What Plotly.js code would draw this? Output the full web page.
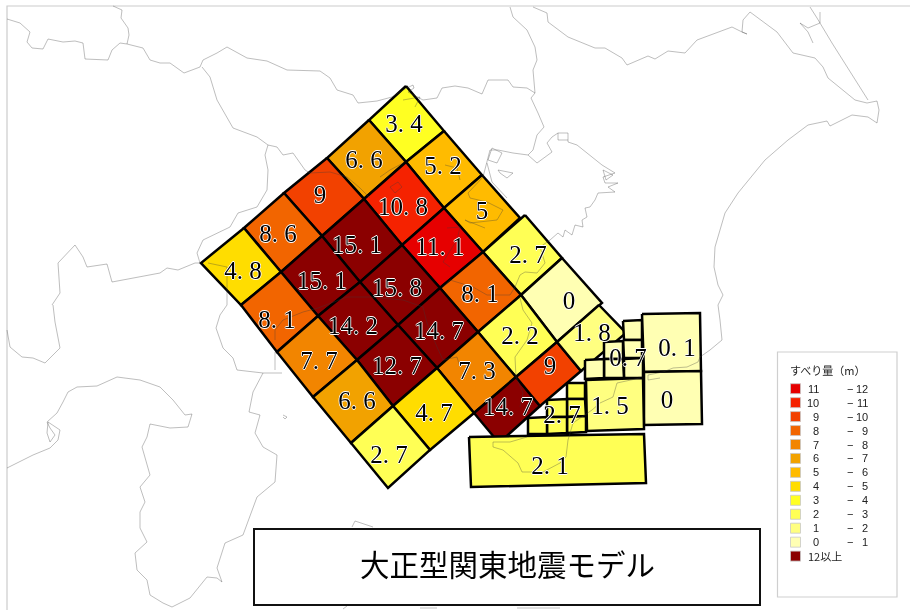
<!DOCTYPE html>
<html><head><meta charset="utf-8">
<script src="https://cdn.plot.ly/plotly-3.0.1.min.js"></script>
<style>html,body{margin:0;padding:0;background:#fff}#c{width:910px;height:610px;filter:blur(0.3px)}</style>
</head><body><div id="c"></div>
<script>
// slip categories
const legendTitle = 'すべり量（m）';
const legendLow  = ['11','10','9','8','7','6','5','4','3','2','1','0'];
const legendHigh = ['12','11','10','9','8','7','6','5','4','3','2','1'];
const legendColors = ['#e60000','#f52200','#f24100','#f26500','#f28500','#f2a200','#ffbb00','#ffdd00','#ffff22','#ffff55','#ffff80','#ffffb3'];
const overLabel = '12以上';
const overColor = '#8b0000';
const titleText = '大正型関東地震モデル';

// fault-cell slip values
const cellValues = [3.4,5.2,5,2.7,0, 6.6,10.8,11.1,8.1,2.2, 9,15.1,15.8,14.7,7.3, 8.6,15.1,14.2,12.7,4.7, 4.8,8.1,7.7,6.6,2.7, 14.7,9,1.8];
const cellPolys = [
 [[406,86],[444,131],[406,162],[369,120]],
 [[444,131],[482,175],[444,208],[406,162]],
 [[482,175],[520,218],[483,252],[444,208]],
 [[525,215],[562,258],[521,295],[483,252]],
 [[562,258],[602,303],[557,342],[521,295]],
 [[369,120],[406,162],[364,199],[327,158]],
 [[406,162],[444,208],[402,245],[364,199]],
 [[444,208],[483,252],[440,288],[402,245]],
 [[483,252],[521,295],[478,332],[440,288]],
 [[521,295],[557,342],[516,377],[478,332]],
 [[327,158],[364,199],[322,236],[284,193]],
 [[364,199],[402,245],[360,282],[322,236]],
 [[402,245],[440,288],[398,325],[360,282]],
 [[440,288],[478,332],[437,368],[398,325]],
 [[478,332],[516,377],[474,413],[437,368]],
 [[284,193],[322,236],[281,272],[244,228]],
 [[322,236],[360,282],[318,316],[281,272]],
 [[360,282],[398,325],[357,360],[318,316]],
 [[398,325],[437,368],[393,406],[357,360]],
 [[437,368],[474,413],[430,450],[393,406]],
 [[244,228],[281,272],[241,305],[201,263]],
 [[281,272],[318,316],[277,352],[241,305]],
 [[318,316],[357,360],[313,397],[277,352]],
 [[357,360],[393,406],[351,443],[313,397]],
 [[393,406],[430,450],[388,488],[351,443]],
 [[516,377],[540,406],[499,443],[474,413]],
 [[557,342],[581,371],[540,406],[516,377]],
 [[599,305],[626,333],[581,371],[557,342]]
];
const smallValues = [0.7,0.7,0.7,0.7,0.7,0.7,0.1,0,1.5,2.7,2.7,2.7,2.7,2.7,2.7,2.1];
const smallPolys = [
 [[623,321],[642,320],[642,340],[624,340]],
 [[623,340],[642,340],[642,358],[624,358]],
 [[624,359],[643,358],[643,378],[624,378]],
 [[604,342],[623,341],[623,359],[604,359]],
 [[604,359],[623,359],[624,378],[604,378]],
 [[585,360],[604,359],[604,378],[585,379]],
 [[642,314],[700,313],[701,371],[644,372]],
 [[644,372],[701,371],[702,424],[644,425]],
 [[586,380],[643,378],[644,429],[587,431]],
 [[567,383],[585,383],[585,399],[567,399]],
 [[567,399],[585,399],[586,416],[567,417]],
 [[567,417],[586,416],[586,432],[567,433]],
 [[547,400],[567,399],[567,417],[547,417]],
 [[547,417],[567,417],[567,433],[547,434]],
 [[528,418],[547,417],[547,434],[528,434]],
 [[469,437],[644,434],[646,483],[471,487]]
];

// value labels
const labelText = ['3.4','6.6','9','8.6','4.8','5.2','10.8','15.1','15.1','5','11.1','15.8','14.2','8.1','7.7','6.6','12.7','14.7','8.1','2.7','0','2.2','7.3','9','14.7','4.7','2.7','1.8','0.7','0.1','0','1.5','2.7','2.1'];
const labelX = [404,364,320,278,243,443,403,357,322,482,440,397,353,277,319,357,397,439,480,528,569,520,477,550,508,434,389,592,628,677,667,610,562,550];
const labelY = [126,162,197,236,273,168,209,247,283,213,249,290,328,322,363,403,368,333,296,257,303,338,373,368,409,415,457,335,360,350,402,408,417,468];

// coastline and boundary traces
const coastLines = [
 [[7,19],[20,23],[30,32],[27,42],[32,48],[43,49],[48,39],[63,42],[75,41],[83,43],[85,59],[100,60],[108,60],[112,50],[120,43],[127,44]],
 [[113,6],[122,10],[121,18],[128,28],[129,35],[127,44]],
 [[127,44],[143,48],[150,60],[160,63],[170,63],[184,73],[200,67],[203,60],[217,53],[227,47],[247,58],[267,61],[287,70],[320,71],[330,78],[337,90],[353,95],[358,103],[377,101],[392,97],[403,90],[413,85],[414,88],[408,92],[423,100],[437,98],[442,88],[455,86],[468,88],[482,94],[488,80],[508,80],[513,87],[527,88],[535,93]],
 [[510,7],[513,17],[527,30],[535,47],[537,60],[533,70],[535,93],[531,98],[538,113],[544,127],[537,135],[533,150],[528,155],[513,153]],
 [[528,155],[537,163],[552,152],[547,143],[552,137],[558,133],[568,133],[568,142],[577,145],[602,165],[615,173],[603,177],[605,183],[618,183],[608,187],[615,192],[598,193],[595,200],[590,207],[585,208],[587,217],[582,220],[583,227],[575,225],[572,235],[565,230],[563,237],[558,233],[550,240],[540,247],[545,263],[537,273],[525,272],[520,275],[515,287],[510,295],[487,295],[473,287],[450,280],[442,288]],
 [[558,133],[558,140],[568,140]],
 [[603,170],[613,175],[606,180],[603,170]],
 [[520,298],[523,310],[532,323],[527,340],[515,357],[516,377],[523,393],[520,407]],
 [[513,153],[498,150],[490,150],[487,163],[483,177],[468,193],[470,198],[487,202],[503,210],[497,220],[470,223],[465,220],[485,228]],
 [[487,163],[492,182],[507,198]],
 [[498,170],[513,173],[507,178],[500,173],[498,170]],
 [[492,148],[502,153],[497,163],[488,160],[492,148]],
 [[460,180],[457,168],[445,165]],
 [[447,228],[460,227],[457,240],[443,262],[450,267]],
 [[533,7],[547,13],[548,22],[568,37],[595,48],[605,48],[622,58],[627,65],[648,56],[655,59],[668,51],[685,53],[697,40],[715,33],[732,27],[742,32],[747,34],[742,32],[743,20],[750,12],[777,32],[793,53],[815,58],[823,67],[828,78],[855,100],[867,103],[877,101],[879,110],[877,123],[868,117],[852,115],[830,126],[827,121],[808,125],[788,140],[765,160],[738,193],[725,213],[715,247],[714,267],[718,285],[723,295],[718,305],[720,320],[722,340],[710,350],[700,357],[698,362],[687,367],[673,368],[663,372],[648,375],[648,380],[660,378]],
 [[640,378],[617,383],[613,397],[600,403],[592,410],[573,423],[568,440],[566,457],[560,463],[543,472],[522,472],[518,463],[503,450],[493,447],[493,442],[510,442],[527,437]],
 [[810,7],[817,18],[832,43],[855,80],[868,100]],
 [[820,12],[820,23],[808,28],[800,23],[808,32],[813,43]],
 [[7,468],[13,465],[33,455],[50,448],[58,440],[60,430],[55,427],[48,422],[47,433],[50,442],[55,435],[50,428],[47,422],[57,413],[63,402],[68,392],[77,387],[97,386],[117,377],[140,380],[160,387],[173,400],[185,415],[192,414],[188,427],[170,428],[150,424],[147,437],[142,447],[147,465],[150,475],[140,487],[145,502],[140,512],[140,528],[147,542],[135,553],[137,570],[147,580],[150,595],[163,603],[172,607],[190,598],[207,577],[217,578],[222,582],[217,568],[225,543],[243,535],[257,497],[275,482],[277,455],[263,447],[255,433],[260,415],[249,412],[253,392],[263,373],[282,373]],
 [[275,370],[275,352]],
 [[208,263],[227,267],[227,305],[220,315],[216,328],[223,348],[233,358],[237,370],[263,373]],
 [[275,340],[275,330],[283,320],[303,312],[318,308],[347,297],[370,297],[403,300],[423,307],[427,323],[437,347],[443,360],[457,357],[460,367]],
 [[305,170],[310,173],[330,172],[347,177],[360,188],[370,198]],
 [[380,177],[390,170],[403,163]],
 [[390,187],[398,182],[402,187],[395,193],[390,187]],
 [[403,100],[420,97],[415,107]],
 [[52,305],[60,293],[58,263],[75,245],[83,257],[87,267],[107,264],[112,282],[160,273],[167,268],[178,270],[195,263],[200,263]],
 [[200,263],[197,253],[203,240],[230,227],[238,213],[257,207],[267,190],[268,170],[265,155],[268,145],[277,147],[283,155],[293,153],[305,170]],
 [[268,145],[257,137],[233,128],[217,100],[210,77],[202,67]],
 [[53,305],[55,322],[60,348],[45,363],[33,358],[22,357],[10,347],[7,330]],
 [[283,415],[287,417],[285,419],[283,417]],
 [[352,527],[355,521],[373,527]],
 [[343,609],[347,606]],
 [[420,608],[437,608]],
 [[517,608],[560,608]]
];

const colorOf = v => v >= 12 ? overColor : legendColors[11 - Math.floor(v)];
const spaced = s => s.replace('.', '. ');

const traces = [];
const addCell = (poly, v) => traces.push({
  x: poly.map(p => p[0]).concat(poly[0][0]),
  y: poly.map(p => p[1]).concat(poly[0][1]),
  mode: 'lines', fill: 'toself', fillcolor: colorOf(v),
  line: {color: '#000', width: 2.5}, hoverinfo: 'skip'
});
cellPolys.forEach((p, i) => addCell(p, cellValues[i]));
smallPolys.forEach((p, i) => addCell(p, smallValues[i]));
coastLines.forEach(l => traces.push({
  x: l.map(p => p[0]), y: l.map(p => p[1]), mode: 'lines',
  line: {color: 'rgba(60,60,60,0.42)', width: 0.8}, hoverinfo: 'skip'
}));
traces.push({
  x: labelX, y: labelY, text: labelText.map(spaced), mode: 'text', textposition: 'middle center',
  textfont: {family: '"Liberation Serif", serif', size: 25, color: '#000',
             shadow: '0.8px 0 0 #fff, -0.8px 0 0 #fff, 0 0.8px 0 #fff, 0 -0.8px 0 #fff'},
  hoverinfo: 'skip'
});

const shapes = [
 {type:'path', path:'M7,610 L7,6 L910,6', line:{color:'#cccccc', width:1.2}, layer:'below'},
 {type:'rect', x0:254, x1:760, y0:529, y1:605, fillcolor:'#fff', line:{color:'#111', width:2}, layer:'above'},
 {type:'rect', x0:777.5, x1:897, y0:352, y1:597, fillcolor:'#fff', line:{color:'#cfcfcf', width:1.2}, layer:'above'}
];
const anns = [];
const T = (x, y, text, size, anchor, family, color) => anns.push({x, y, text, showarrow:false, xanchor:anchor, yanchor:'middle', borderpad:0,
  font:{family, size, color: color || '#222'}});
const CJK = '"Noto Sans CJK JP", sans-serif';
const SANS = '"Liberation Sans", sans-serif';
T(507, 563, titleText, 29.5, 'center', CJK, '#000');
T(789, 370, legendTitle, 11, 'left', CJK);
const rowY = i => 388.7 + i * 13.95;
legendColors.forEach((c, i) => {
  shapes.push({type:'rect', x0:790.5, x1:800.5, y0:rowY(i)-5, y1:rowY(i)+5, fillcolor:c, line:{color:'#c8c8c8', width:0.8}, layer:'above'});
  T(820, rowY(i), legendLow[i], 11, 'right', SANS);
  T(850, rowY(i), '−', 11, 'center', SANS);
  T(869, rowY(i), legendHigh[i], 11, 'right', SANS);
});
shapes.push({type:'rect', x0:790.5, x1:800.5, y0:rowY(12)-5, y1:rowY(12)+5, fillcolor:overColor, line:{color:'#c8c8c8', width:0.8}, layer:'above'});
T(807, rowY(12), overLabel, 11, 'left', CJK);

Plotly.newPlot('c', traces, {
  width: 910, height: 610, showlegend: false,
  margin: {l:0, r:0, t:0, b:0, pad:0},
  paper_bgcolor: '#fff', plot_bgcolor: '#fff',
  xaxis: {range:[0,910], visible:false, fixedrange:true},
  yaxis: {range:[610,0], visible:false, fixedrange:true},
  shapes, annotations: anns
}, {staticPlot:true, displayModeBar:false});
</script>
</body></html>
